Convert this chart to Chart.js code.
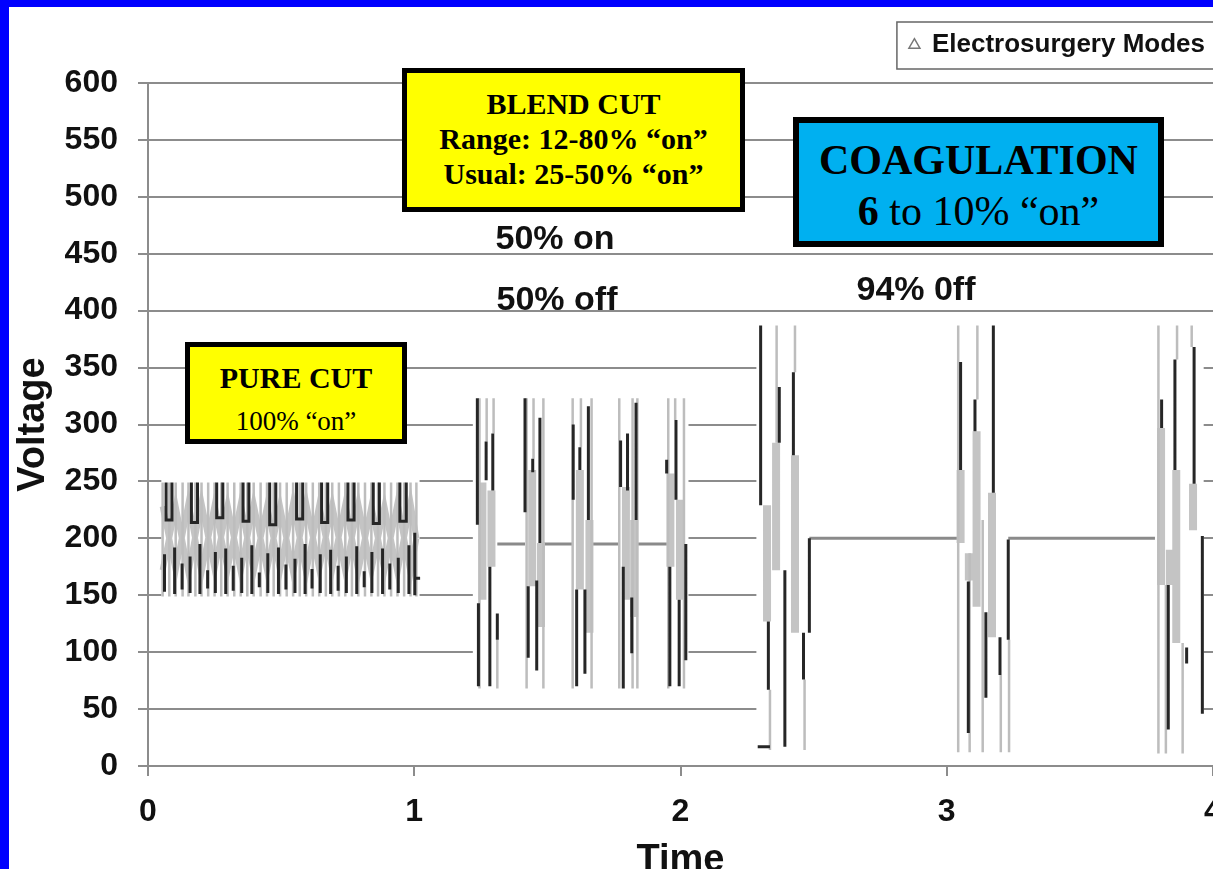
<!DOCTYPE html>
<html>
<head>
<meta charset="utf-8">
<script src="https://cdn.jsdelivr.net/npm/chart.js@4.4.1/dist/chart.umd.min.js"></script>
<style>
  html, body { margin: 0; padding: 0; width: 1213px; height: 869px; overflow: hidden; background: #0000ff; }
  #panel { position: absolute; left: 9px; top: 7px; width: 1230px; height: 900px; background: #fff; overflow: hidden; }
  #chart { position: absolute; left: 0; top: 0; }
  .box { position: absolute; box-sizing: border-box; border: 5px solid #000; text-align: center;
         font-family: 'Liberation Serif', 'Times New Roman', serif; color: #000; white-space: nowrap; }
  .note { position: absolute; transform: translate(-50%, -50%); font: bold 34px 'Liberation Sans', Arial, sans-serif;
          line-height: 1; white-space: nowrap; color: #111; }
</style>
</head>
<body>
<div id="panel"><canvas id="chart" width="1220" height="900"></canvas></div>

<div class="box" style="left:402px;top:68px;width:343px;height:144px;background:#ffff00;padding-top:13px;font-weight:bold;font-size:30px;line-height:35px;">BLEND CUT<br>Range: 12-80% “on”<br>Usual: 25-50% “on”</div>
<div class="box" style="left:793px;top:117px;width:371px;height:130px;border-width:6px;background:#00b0f0;padding-top:12px;font-size:42px;line-height:51px;"><b>COAGULATION</b><br><b>6</b> to 10% “on”</div>
<div class="box" style="left:185px;top:342px;width:222px;height:102px;background:#ffff00;padding-top:11px;line-height:39px;"><b style="font-size:30px;">PURE CUT</b><br><span style="font-size:27px;">100% “on”</span></div>

<div class="note" style="left:555px;top:237px;">50% on</div>
<div class="note" style="left:557px;top:298px;">50% off</div>
<div class="note" style="left:916px;top:288px;">94% 0ff</div>

<script>
// ---- pure cut (100% on) ----
const pureGrayX = [0.055, 0.080, 0.104, 0.130, 0.152, 0.178, 0.201, 0.226, 0.250, 0.275,
                   0.299, 0.324, 0.348, 0.373, 0.397, 0.423, 0.447, 0.472, 0.496, 0.521,
                   0.545, 0.570, 0.594, 0.619, 0.643, 0.668, 0.692, 0.717, 0.741, 0.766,
                   0.790, 0.815, 0.839, 0.864, 0.888, 0.913, 0.937, 0.962, 0.986, 1.008];
const pureGrayTop = 249;
const pureGrayBottom = 149;

const pureUleft  = [0.068, 0.163, 0.258, 0.357, 0.457, 0.558, 0.652, 0.751, 0.846, 0.946];
const pureUright = [0.090, 0.186, 0.281, 0.379, 0.480, 0.581, 0.675, 0.774, 0.869, 0.970];
const pureUfloor = [216, 214, 218, 215, 212, 217, 214, 216, 213, 215];
const pureUtop = 249;

const pureDarkX = [0.062, 0.100, 0.128, 0.158, 0.195, 0.224, 0.253, 0.292, 0.320, 0.352,
                   0.390, 0.418, 0.450, 0.490, 0.518, 0.552, 0.590, 0.616, 0.647, 0.686,
                   0.714, 0.745, 0.784, 0.812, 0.841, 0.881, 0.908, 0.940, 0.980, 1.002];
const pureDarkTop = [186, 192, 178, 184, 195, 172, 188, 191, 176, 183,
                     194, 170, 187, 192, 177, 182, 195, 173, 186, 190,
                     176, 184, 193, 171, 188, 191, 178, 183, 194, 205];
const pureDarkBottom = [153, 151, 155, 152, 151, 156, 152, 151, 154, 152,
                        151, 157, 152, 151, 155, 152, 151, 156, 152, 151,
                        154, 152, 151, 157, 152, 151, 155, 152, 151, 150];

const pureZigX = [0.055, 0.104, 0.152, 0.201, 0.250, 0.299, 0.348, 0.397, 0.447, 0.496, 0.545,
                  0.594, 0.643, 0.692, 0.741, 0.790, 0.839, 0.888, 0.937, 0.986, 1.008];
const pureZigA = [228, 172, 231, 170, 229, 173, 230, 171, 228, 172, 231,
                  170, 229, 173, 230, 171, 228, 172, 231, 170, 200];
const pureZigB = [172, 228, 170, 231, 173, 229, 171, 230, 172, 228, 170,
                  231, 173, 229, 171, 230, 172, 228, 170, 231, 200];
const pureEndX = [1.000, 1.022];
const pureEndY = [165, 165];

// ---- blend cut (50% on / 50% off) ----
const blendDarkX = [1.237, 1.241, 1.270, 1.284, 1.295, 1.312,
                    1.416, 1.428, 1.445, 1.460, 1.472,
                    1.597, 1.610, 1.622, 1.641, 1.654,
                    1.775, 1.785, 1.801, 1.817, 1.833,
                    1.948, 1.960, 1.983, 1.995, 2.020];
const blendDarkTop = [323, 143, 285, 175, 292, 134,
                      323, 158, 270, 163, 306,
                      300, 155, 280, 155, 316,
                      286, 175, 292, 148, 319,
                      269, 175, 304, 146, 195];
const blendDarkBottom = [212, 70, 251, 70, 242, 111,
                         223, 95, 258, 84, 196,
                         234, 70, 260, 81, 216,
                         245, 68, 242, 99, 216,
                         257, 70, 234, 70, 93];

const blendGrayX = [1.245, 1.272, 1.298, 1.312,
                    1.422, 1.448, 1.485,
                    1.595, 1.626, 1.666,
                    1.770, 1.820, 1.838,
                    1.954, 1.980, 2.013];
const blendGrayTop = [323, 323, 323, 111,
                      323, 323, 323,
                      323, 323, 323,
                      323, 323, 323,
                      323, 323, 323];
const blendGrayBottom = [68, 285, 292, 68,
                         68, 270, 68,
                         68, 280, 68,
                         68, 68, 68,
                         68, 304, 68];

const blendBandX = [1.256, 1.290, 1.443, 1.476, 1.622, 1.658, 1.795, 1.826, 1.962, 1.998];
const blendBandTop = [249, 242, 260, 196, 260, 216, 245, 216, 257, 234];
const blendBandBottom = [146, 175, 158, 122, 155, 117, 146, 131, 175, 146];

const blendFlatFrom = [1.312, 1.485, 1.666, 1.838];
const blendFlatTo = [1.416, 1.595, 1.770, 1.954];
const blendFlatLevel = 195;

// ---- coagulation (94% off) ----
const coagDarkX = [2.301, 2.330, 2.371, 2.392, 2.424, 2.462, 2.484,
                   3.052, 3.081, 3.106, 3.147, 3.175, 3.200, 3.231,
                   3.807, 3.832, 3.857, 3.901, 3.929, 3.960];
const coagDarkTop = [387, 127, 333, 172, 346, 117, 200,
                     355, 162, 322, 135, 387, 113, 199,
                     322, 159, 357, 104, 368, 202];
const coagDarkBottom = [229, 67, 284, 17, 273, 76, 117,
                        260, 29, 294, 60, 240, 80, 111,
                        297, 32, 260, 90, 248, 46];

const coagGrayX = [2.336, 2.361, 2.430, 2.466,
                   3.043, 3.086, 3.115, 3.135, 3.203, 3.234,
                   3.795, 3.823, 3.865, 3.886, 3.920];
const coagGrayTop = [67, 387, 387, 76,
                     387, 187, 387, 216, 80, 111,
                     387, 159, 387, 108, 387];
const coagGrayBottom = [14, 284, 346, 14,
                        12, 12, 322, 12, 12, 12,
                        11, 11, 357, 11, 368];

const coagBandX = [2.325, 2.359, 2.430,
                   3.052, 3.083, 3.112, 3.170,
                   3.805, 3.838, 3.862, 3.925];
const coagBandTop = [229, 284, 273, 260, 187, 294, 240, 297, 190, 260, 248];
const coagBandBottom = [127, 172, 117, 196, 163, 140, 113, 159, 159, 108, 207];

const coagFlatFrom = [2.484, 3.231];
const coagFlatTo = [3.043, 3.782];
const coagFlatLevel = 200;
const coagFootX = [2.290, 2.336];
const coagFootY = [17, 17];

// white areas behind each trace (hide the grid)
const maskX0 = [0.05, 1.22, 2.285];
const maskX1 = [1.02, 2.03, 3.965];
const maskY0 = [140, 60, 6];
const maskY1 = [262, 332, 392];

const yTicks = [0, 50, 100, 150, 200, 250, 300, 350, 400, 450, 500, 550, 600];
const xTicks = [0, 1, 2, 3, 4];

function pick(v, i) { return Array.isArray(v) ? v[i] : v; }

// vertical strokes separated by gaps
function strokes(xs, tops, bottoms) {
    const pts = [];
    xs.forEach((x, i) => {
        pts.push({ x: x, y: pick(tops, i) }, { x: x, y: pick(bottoms, i) }, { x: x, y: null });
    });
    return pts;
}
function polyline(xs, ys) {
    const pts = xs.map((x, i) => ({ x: x, y: pick(ys, i) }));
    pts.push({ x: xs[xs.length - 1], y: null });
    return pts;
}
function flats(from, to, level) {
    const pts = [];
    from.forEach((x, i) => { pts.push({ x: x, y: level }, { x: to[i], y: level }, { x: to[i], y: null }); });
    return pts;
}
function uShapes(left, right, floor, top) {
    const pts = [];
    left.forEach((x, i) => {
        pts.push({ x: x, y: top }, { x: x, y: floor[i] }, { x: right[i], y: floor[i] },
                 { x: right[i], y: top }, { x: right[i], y: null });
    });
    return pts;
}

const darkPts = [].concat(
    uShapes(pureUleft, pureUright, pureUfloor, pureUtop),
    strokes(pureDarkX, pureDarkTop, pureDarkBottom),
    polyline(pureEndX, pureEndY),
    strokes(blendDarkX, blendDarkTop, blendDarkBottom),
    strokes(coagDarkX, coagDarkTop, coagDarkBottom),
    polyline(coagFootX, coagFootY)
);
const grayPts = [].concat(
    strokes(pureGrayX, pureGrayTop, pureGrayBottom),
    strokes(blendGrayX, blendGrayTop, blendGrayBottom),
    strokes(coagGrayX, coagGrayTop, coagGrayBottom)
);
const bandPts = [].concat(
    strokes(blendBandX, blendBandTop, blendBandBottom),
    strokes(coagBandX, coagBandTop, coagBandBottom)
);
const zigPts = [].concat(polyline(pureZigX, pureZigA), polyline(pureZigX, pureZigB));
const flatPts = [].concat(
    flats(blendFlatFrom, blendFlatTo, blendFlatLevel),
    flats(coagFlatFrom, coagFlatTo, coagFlatLevel)
);

const colors = {
    dark: '#262626',
    gray: '#bdbdbd',
    band: '#c4c4c4',
    flat: '#8a8a8a',
    grid: '#8c8c8c',
    text: '#111111'
};
const sans = "'Liberation Sans', Arial, Helvetica, sans-serif";

function trace(label, data, color, width, order) {
    return { label: label, data: data, borderColor: color, backgroundColor: color, borderWidth: width,
             pointRadius: 0, pointHoverRadius: 0, pointStyle: 'triangle', spanGaps: false,
             tension: 0, order: order, fill: false };
}

const maskPlugin = {
    id: 'mask',
    beforeDatasetsDraw(chart) {
        const { ctx, scales: { x, y } } = chart;
        ctx.save();
        ctx.fillStyle = '#ffffff';
        maskX0.forEach((x0, i) => {
            const l = x.getPixelForValue(x0), r = x.getPixelForValue(maskX1[i]);
            const t = y.getPixelForValue(maskY1[i]), b = y.getPixelForValue(maskY0[i]);
            ctx.fillRect(l, t, r - l, b - t);
        });
        ctx.restore();
    }
};

const legendFrame = {
    id: 'legendFrame',
    afterDraw(chart) {
        const hb = chart.legend && chart.legend.legendHitBoxes && chart.legend.legendHitBoxes[0];
        if (!hb) return;
        const ctx = chart.ctx;
        ctx.save();
        ctx.strokeStyle = '#666';
        ctx.lineWidth = 1.5;
        ctx.strokeRect(hb.left - 13, hb.top - 10, chart.width, hb.height + 21);
        ctx.restore();
    }
};

new Chart(document.getElementById('chart'), {
    type: 'line',
    data: {
        datasets: [
            trace('Electrosurgery Modes', darkPts, colors.dark, 3, 0),
            trace('gray', grayPts, colors.gray, 2.5, 1),
            trace('band', bandPts, colors.band, 8, 2),
            trace('zig', zigPts, colors.band, 6, 3),
            trace('flat', flatPts, colors.flat, 3, 4)
        ]
    },
    options: {
        responsive: false,
        devicePixelRatio: 1,
        animation: false,
        events: [],
        layout: { padding: 0 },
        scales: {
            x: {
                type: 'linear', min: 0, max: 4,
                afterBuildTicks: (s) => { s.ticks = xTicks.map(v => ({ value: v })); },
                afterFit: (s) => { s.height = 141; s.paddingRight = 16; s.paddingLeft = 0; },
                grid: { drawOnChartArea: false, drawTicks: true, tickLength: 10, color: colors.grid, lineWidth: 2 },
                border: { display: true, color: colors.grid, width: 2 },
                ticks: { padding: 17, color: colors.text, font: { family: sans, weight: 'bold', size: 32 } },
                title: { display: true, text: 'Time', color: colors.text, padding: { top: 0, bottom: 24 },
                         font: { family: sans, weight: 'bold', size: 38 } }
            },
            y: {
                type: 'linear', min: 0, max: 600,
                afterBuildTicks: (s) => { s.ticks = yTicks.map(v => ({ value: v })); },
                afterFit: (s) => { s.width = 139; s.paddingTop = 76; },
                grid: { drawTicks: true, tickLength: 10, color: colors.grid, lineWidth: 2 },
                border: { display: true, color: colors.grid, width: 2 },
                ticks: { padding: 20, color: colors.text, font: { family: sans, weight: 'bold', size: 32 } },
                title: { display: true, text: 'Voltage', color: colors.text, padding: { top: 2, bottom: 0 },
                         font: { family: sans, weight: 'bold', size: 38 } }
            }
        },
        plugins: {
            tooltip: { enabled: false },
            // empty spacer between the legend and the plot area
            subtitle: { display: true, text: '', position: 'top', weight: 500, padding: 0,
                        font: { size: 10, lineHeight: 1.5 } },
            legend: {
                position: 'top',
                align: 'end',
                labels: {
                    usePointStyle: true,
                    boxWidth: 9,
                    boxHeight: 9,
                    padding: 24,
                    color: colors.text,
                    font: { family: sans, weight: 'bold', size: 26 },
                    generateLabels: () => [{
                        text: 'Electrosurgery Modes', pointStyle: 'triangle', fillStyle: '#ffffff',
                        strokeStyle: '#777777', lineWidth: 1.5, hidden: false, datasetIndex: 0, fontColor: colors.text
                    }]
                }
            }
        }
    },
    plugins: [maskPlugin, legendFrame]
});
</script>
</body>
</html>
